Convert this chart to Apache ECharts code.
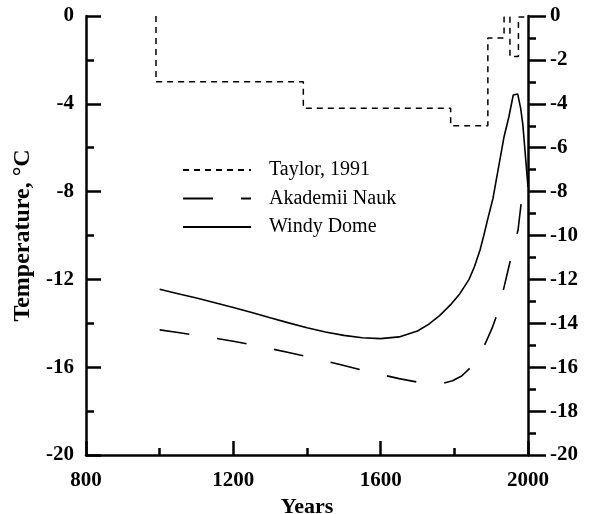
<!DOCTYPE html>
<html><head><meta charset="utf-8">
<script src="https://cdn.jsdelivr.net/npm/echarts@6/dist/echarts.min.js"></script>
<style>html,body{margin:0;padding:0;background:#fff}#c{width:595px;height:514px}</style>
</head><body><div id="c"></div>
<script>
const seriesNames = ['Taylor, 1991', 'Akademii Nauk', 'Windy Dome'];
const taylorYears  = [990, 990, 1390, 1390, 1790, 1790, 1891, 1891, 1935, 1935, 1951, 1951, 1974, 1974, 1990];
const taylorTemps  = [0, -3, -3, -4.2, -4.2, -5, -5, -1, -1, -0.05, -0.05, -1.85, -1.85, -0.05, -0.05];
const akademiiYears = [1000, 1050, 1100, 1150, 1200, 1250, 1300, 1350, 1400, 1450, 1500, 1550, 1600, 1650, 1700, 1740, 1770, 1795, 1820, 1845, 1870, 1886, 1903, 1918, 1935, 1954, 1973, 1983];
const akademiiTemps = [-14.3, -14.42, -14.55, -14.68, -14.82, -14.98, -15.15, -15.33, -15.52, -15.72, -15.92, -16.13, -16.33, -16.52, -16.68, -16.75, -16.73, -16.62, -16.4, -16.0, -15.4, -14.85, -14.2, -13.5, -12.35, -11.0, -9.75, -8.3];
const windyYears = [1000, 1050, 1100, 1150, 1200, 1250, 1300, 1350, 1400, 1450, 1500, 1550, 1600, 1650, 1700, 1730, 1760, 1790, 1815, 1840, 1855, 1870, 1880, 1890, 1905, 1920, 1935, 1948, 1960, 1972, 1980, 1986, 2000];
const windyTemps = [-12.45, -12.65, -12.85, -13.06, -13.28, -13.51, -13.75, -13.98, -14.2, -14.4, -14.55, -14.66, -14.7, -14.62, -14.35, -14.05, -13.65, -13.15, -12.65, -12.0, -11.4, -10.65, -10.0, -9.3, -8.3, -6.9, -5.5, -4.6, -3.6, -3.55, -4.2, -4.95, -7.8];
const xTicks = {min: 800, max: 2000, step: 400};
const yTicksLeft = {min: -20, max: 0, step: 4};
const yTicksRight = {min: -20, max: 0, step: 2};

const zip = (xs, ys) => xs.map((x, i) => [x, ys[i]]);
const FONT = 'Liberation Serif, Times New Roman, serif';
const axisCommon = {
  axisLine: {show: true, onZero: false, lineStyle: {color: '#000', width: 2.5}},
  splitLine: {show: false},
  minorSplitLine: {show: false},
  axisLabel: {color: '#000', fontFamily: FONT, fontWeight: 'bold', fontSize: 21, showMinLabel: true, showMaxLabel: true,
              formatter: v => String(v)}
};
const chart = echarts.init(document.getElementById('c'), null, {renderer: 'canvas'});
chart.setOption({
  animation: false,
  backgroundColor: '#fff',
  grid: {left: 86, right: 67, top: 16, bottom: 59, containLabel: false, outerBoundsMode: 'none'},
  legend: {
    orient: 'vertical', left: 182, top: 160, padding: 0, itemWidth: 68, itemHeight: 14, itemGap: 8.5,
    data: seriesNames,
    itemStyle: {opacity: 0},
    textStyle: {color: '#000', fontFamily: FONT, fontSize: 20, padding: [0, 0, 0, 13]}
  },
  xAxis: Object.assign({}, axisCommon, {
    type: 'value', min: xTicks.min, max: xTicks.max, interval: xTicks.step,
    name: 'Years', nameLocation: 'middle', nameGap: 36,
    nameTextStyle: {color: '#000', fontFamily: FONT, fontWeight: 'bold', fontSize: 22},
    axisTick: {show: true, inside: true, length: 14, lineStyle: {color: '#000', width: 2.5}},
    minorTick: {show: true, splitNumber: 2, length: 7, lineStyle: {color: '#000', width: 2.5}},
    axisLabel: Object.assign({}, axisCommon.axisLabel, {margin: 15})
  }),
  yAxis: [
    Object.assign({}, axisCommon, {
      type: 'value', position: 'left', min: yTicksLeft.min, max: yTicksLeft.max, interval: yTicksLeft.step,
      name: 'Temperature, °C', nameLocation: 'middle', nameGap: 50,
      nameTextStyle: {color: '#000', fontFamily: FONT, fontWeight: 'bold', fontSize: 24},
      axisTick: {show: true, inside: true, length: 15, lineStyle: {color: '#000', width: 2.5}},
      minorTick: {show: true, splitNumber: 2, length: 8, lineStyle: {color: '#000', width: 2.5}},
      axisLabel: Object.assign({}, axisCommon.axisLabel, {margin: 12})
    }),
    Object.assign({}, axisCommon, {
      type: 'value', position: 'right', min: yTicksRight.min, max: yTicksRight.max, interval: yTicksRight.step,
      axisTick: {show: true, inside: false, length: 18, lineStyle: {color: '#000', width: 2.5}},
      minorTick: {show: true, splitNumber: 2, length: 8, lineStyle: {color: '#000', width: 2.5}},
      axisLabel: Object.assign({}, axisCommon.axisLabel, {margin: 22, align: 'left'})
    })
  ],
  series: [
    {name: seriesNames[0], type: 'line', data: zip(taylorYears, taylorTemps), showSymbol: false, symbol: 'none',
     color: '#000', lineStyle: {color: '#000', width: 1.5, type: [6, 5]}},
    {name: seriesNames[1], type: 'line', data: zip(akademiiYears, akademiiTemps), showSymbol: false, symbol: 'none',
     color: '#000', lineStyle: {color: '#000', width: 1.6, type: [30, 28]}},
    {name: seriesNames[2], type: 'line', data: zip(windyYears, windyTemps), showSymbol: false, symbol: 'none',
     color: '#000', lineStyle: {color: '#000', width: 1.6, type: 'solid'}}
  ]
});
</script></body></html>
